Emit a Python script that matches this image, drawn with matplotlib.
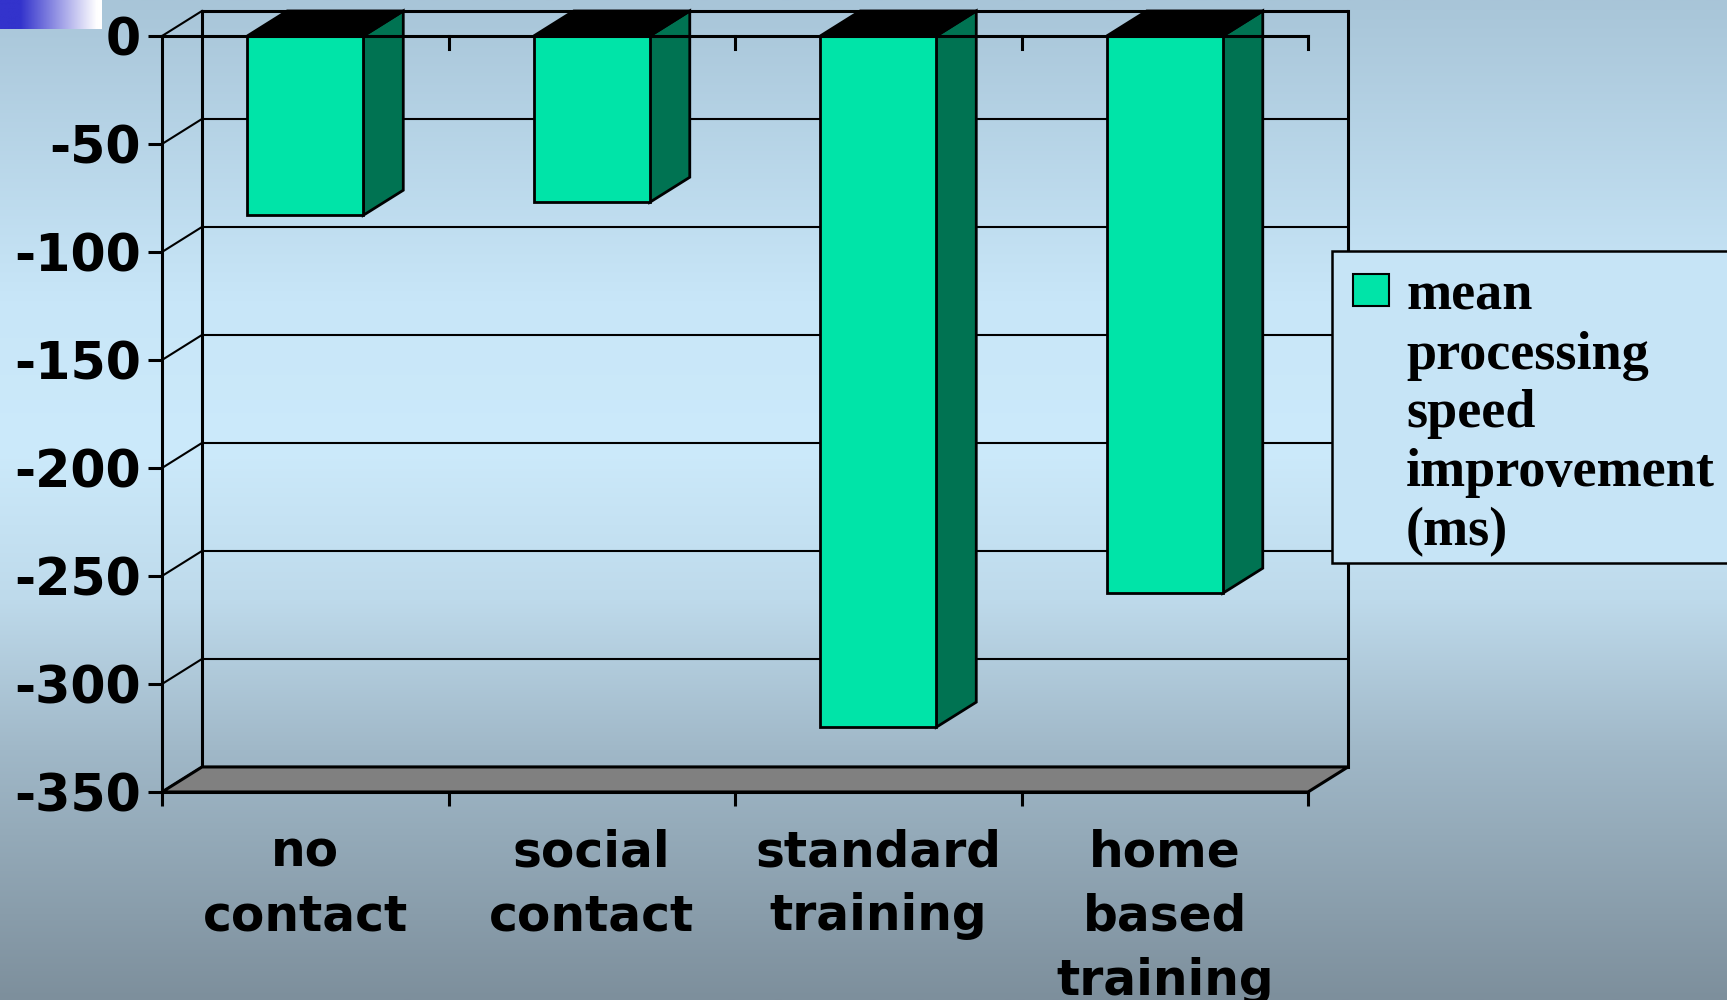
import numpy as np
import matplotlib
matplotlib.use("Agg")
import matplotlib.pyplot as plt
from matplotlib.patches import Polygon, Rectangle

# ---- data ----
categories = ["no\ncontact", "social\ncontact", "standard\ntraining", "home\nbased\ntraining"]
values = [-83, -77, -320, -258]
yticks = [0, -50, -100, -150, -200, -250, -300, -350]
ytick_labels = ["0", "-50", "-100", "-150", "-200", "-250", "-300", "-350"]
legend_label = "mean\nprocessing\nspeed\nimprovement\n(ms)"

# ---- style ----
FRONT = "#00E4A8"
SIDE = "#007352"
TOP = "#000000"
FLOOR = "#808080"
W = 0.405          # bar width (category units)
DX = 0.1396        # 3D depth, category units
DY = 11.6          # 3D depth, value units

plt.rcParams['axes.unicode_minus'] = False

fig = plt.figure(figsize=(17.27, 10), dpi=100)

# background gradient
bg = fig.add_axes([0, 0, 1, 1], zorder=-10)
stops_pos = [0.0, 0.30, 0.45, 0.60, 0.75, 1.0]
stops_col = np.array([(168, 197, 216), (200, 230, 248), (204, 234, 251),
                      (190, 218, 235), (160, 184, 200), (125, 143, 156)]) / 255.0
yy = np.linspace(0, 1, 600)
grad = np.stack([np.interp(yy, stops_pos, stops_col[:, k]) for k in range(3)], axis=-1)[:, None, :]
bg.imshow(grad, aspect='auto', interpolation='bilinear')
bg.set_axis_off()

# top-left blue gradient block
tl = fig.add_axes([0, 1 - 29 / 1000, 102 / 1727, 29 / 1000], zorder=-5)
xx = np.linspace(0, 1, 300)
bl = np.array([51, 51, 204]) / 255.0
t = np.clip((xx - 0.2) / 0.75, 0, 1)
hg = (bl[None, :] * (1 - t[:, None]) + np.ones(3)[None, :] * t[:, None])[None, :, :]
tl.imshow(hg, aspect='auto', interpolation='bilinear')
tl.set_axis_off()

# main axes (front plane)
ax = fig.add_axes([162 / 1727, 208 / 1000, 1146 / 1727, 756 / 1000])
ax.patch.set_visible(False)
ncat = len(categories)
ymin, ymax = min(yticks), max(yticks)
ax.set_xlim(0, ncat)
ax.set_ylim(ymin, ymax)
for s in ["top", "right"]:
    ax.spines[s].set_visible(False)
for s in ["left", "bottom"]:
    ax.spines[s].set_linewidth(2.2)
    ax.spines[s].set_zorder(6)

ax.set_yticks(yticks)
ax.set_yticklabels(ytick_labels)
ax.tick_params(axis='y', direction='out', length=10, width=2.2, pad=5,
               labelsize=36.5)
for lbl in ax.get_yticklabels():
    lbl.set_fontweight('bold')
    lbl.set_family('DejaVu Sans')

ax.set_xticks(list(range(ncat + 1)))
ax.set_xticklabels([])
ax.tick_params(axis='x', which='major', direction='out', length=10, width=2.2)
ax.set_xticks([i + 0.5 for i in range(ncat)], minor=True)
ax.set_xticklabels(categories, minor=True)
ax.tick_params(axis='x', which='minor', length=0, pad=26, labelsize=35)
for lbl in ax.get_xticklabels(minor=True):
    lbl.set_fontweight('bold')
    lbl.set_family('DejaVu Sans')
    lbl.set_linespacing(1.43)

LW_GRID = 1.5
LW_AX = 2.2
# back wall gridlines and left-wall diagonals
for v in yticks:
    ax.plot([DX, ncat + DX], [v + DY, v + DY], color='black', lw=LW_GRID if v != ymax else LW_AX,
            clip_on=False, zorder=1, solid_capstyle='butt')
    ax.plot([0, DX], [v, v + DY], color='black', lw=LW_GRID, clip_on=False, zorder=1)
# back wall verticals
for xv in (DX, ncat + DX):
    ax.plot([xv, xv], [ymin + DY, ymax + DY], color='black', lw=LW_AX, clip_on=False, zorder=1)
# floor
ax.add_patch(Polygon([(0, ymin), (ncat, ymin), (ncat + DX, ymin + DY), (DX, ymin + DY)],
                     closed=True, facecolor=FLOOR, edgecolor='black', lw=LW_AX,
                     clip_on=False, zorder=2))

# front zero line with ticks
ax.plot([0, ncat], [0, 0], color='black', lw=LW_AX, clip_on=False, zorder=5)
for i in range(1, ncat + 1):
    ax.plot([i, i], [0, -6], color='black', lw=LW_AX, clip_on=False, zorder=5)

# bars
for i, v in enumerate(values):
    x0 = i + 0.5 - W / 2
    x1 = x0 + W
    ax.add_patch(Polygon([(x1, 0), (x1 + DX, DY), (x1 + DX, v + DY), (x1, v)], closed=True,
                         facecolor=SIDE, edgecolor='black', lw=2, clip_on=False, zorder=3))
    ax.add_patch(Polygon([(x0, 0), (x1, 0), (x1 + DX, DY), (x0 + DX, DY)], closed=True,
                         facecolor=TOP, edgecolor='black', lw=2, clip_on=False, zorder=3))
    ax.add_patch(Rectangle((x0, v), W, -v, facecolor=FRONT, edgecolor='black', lw=2,
                           clip_on=False, zorder=4))

# legend (manual, handle aligned with first line)
fig.patches.append(Rectangle((1332 / 1727, 1 - 563 / 1000), 0.3, (563 - 251) / 1000,
                             transform=fig.transFigure, facecolor='#C6E4F6', edgecolor='black',
                             lw=1.8, zorder=7))
fig.patches.append(Rectangle((1353 / 1727, 1 - 306 / 1000), 36 / 1727, 32 / 1000,
                             transform=fig.transFigure, facecolor=FRONT, edgecolor='black',
                             lw=1.5, zorder=8))
fig.text(1406 / 1727, 1 - 272 / 1000, legend_label, ha='left', va='top',
         family='Liberation Serif', fontweight='bold', fontsize=39, linespacing=1.23, zorder=9)

fig.savefig("out.png", dpi=100)
